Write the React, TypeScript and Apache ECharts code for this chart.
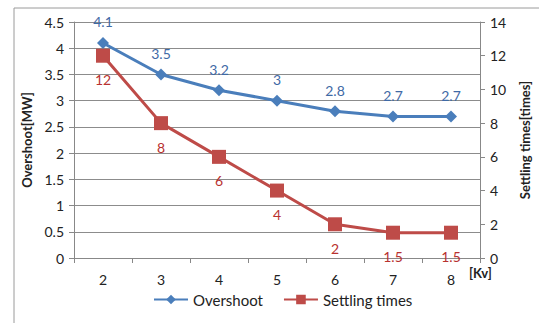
import React, { useEffect, useRef } from "react";
import * as echarts from "echarts";

const categories = ["2", "3", "4", "5", "6", "7", "8"];
const overshoot = [4.1, 3.5, 3.2, 3, 2.8, 2.7, 2.7];
const settling = [12, 8, 6, 4, 2, 1.5, 1.5];

export default function App() {
  const ref = useRef<HTMLDivElement>(null);
  useEffect(() => {
    const chart = echarts.init(ref.current!, null, { renderer: "svg" });
    const font = "Lato, 'Open Sans', sans-serif";
    chart.setOption({
      animation: false,
      textStyle: { fontFamily: font },
      grid: { left: 74, right: 56, top: 22, bottom: 65 },
      graphic: [
        {
          type: "rect",
          shape: { x: 14, y: 8, width: 540, height: 330 },
          style: { fill: "none", stroke: "#9a9a9a", lineWidth: 1 },
        },
        {
          type: "text",
          left: 469,
          top: 266,
          style: { text: "[Kv]", font: "bold 13px " + font, fill: "#222" },
        },
      ],
      legend: {
        bottom: 11,
        left: 148,
        itemWidth: 34,
        itemHeight: 12,
        itemGap: 20,
        textStyle: { fontSize: 15, color: "#222", fontFamily: font },
        data: ["Overshoot", "Settling times"],
      },
      xAxis: {
        type: "category",
        data: categories,
        boundaryGap: true,
        axisLine: { lineStyle: { color: "#888" } },
        axisTick: { show: true, length: 5, lineStyle: { color: "#888" } },
        axisLabel: { fontSize: 14, color: "#222", margin: 14 },
      },
      yAxis: [
        {
          type: "value",
          min: 0,
          max: 4.5,
          interval: 0.5,
          name: "Overshoot[MW]",
          nameLocation: "middle",
          nameGap: 40,
          nameRotate: 90,
          nameTextStyle: { fontSize: 13, fontWeight: "bold", color: "#222" },
          axisLine: { show: true, lineStyle: { color: "#888" } },
          axisTick: { show: true, length: 5, lineStyle: { color: "#888" } },
          axisLabel: { fontSize: 14, color: "#222", margin: 10 },
          splitLine: { lineStyle: { color: "#8c8c8c" } },
        },
        {
          type: "value",
          min: 0,
          max: 14,
          interval: 2,
          name: "Settling times[times]",
          nameLocation: "middle",
          nameGap: 38,
          nameRotate: 90,
          nameTextStyle: { fontSize: 13, fontWeight: "bold", color: "#222" },
          axisLine: { show: true, lineStyle: { color: "#888" } },
          axisTick: { show: true, length: 5, lineStyle: { color: "#888" } },
          axisLabel: { fontSize: 14, color: "#222", margin: 10 },
          splitLine: { show: false },
        },
      ],
      series: [
        {
          name: "Overshoot",
          type: "line",
          yAxisIndex: 0,
          data: overshoot,
          symbol: "diamond",
          symbolSize: 12,
          lineStyle: { width: 3, color: "#4a7ebb" },
          itemStyle: { color: "#4a7ebb" },
          label: {
            show: true,
            position: "top",
            distance: 8,
            fontSize: 14,
            color: "#3f6aa6",
          },
        },
        {
          name: "Settling times",
          type: "line",
          yAxisIndex: 1,
          data: settling,
          symbol: "rect",
          symbolSize: 14,
          lineStyle: { width: 3, color: "#be4b48" },
          itemStyle: { color: "#be4b48" },
          label: {
            show: true,
            position: "bottom",
            distance: 10,
            fontSize: 14,
            color: "#b8312f",
          },
        },
      ],
    });
    return () => chart.dispose();
  }, []);
  return <div ref={ref} style={{ width: 539, height: 323, position: "absolute", left: 0, top: 0 }} />;
}
